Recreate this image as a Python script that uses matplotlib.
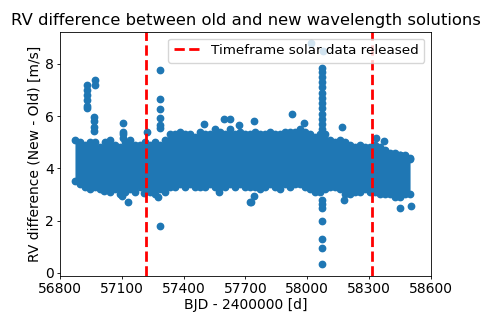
import numpy as np
from matplotlib import pyplot as plt

# dense band of points: upper / lower edge read every ~24 days
band_t = [56873, 56897, 56921, 56946, 56970, 56994, 57018, 57043, 57067, 57091,
          57115, 57140, 57164, 57188, 57213, 57237, 57261, 57285, 57310, 57334,
          57358, 57382, 57407, 57431, 57455, 57479, 57504, 57528, 57552, 57576,
          57601, 57625, 57649, 57673, 57698, 57722, 57746, 57770, 57795, 57819,
          57843, 57867, 57892, 57916, 57940, 57964, 57989, 58013, 58037, 58061,
          58086, 58110, 58134, 58158, 58183, 58207, 58231, 58255, 58280, 58304,
          58328, 58352, 58377, 58401, 58425, 58450, 58474, 58498]
band_hi = [5.1, 5.0, 4.9, 5.0, 5.0, 4.8, 5.0, 5.1, 4.9, 4.8,
           5.0, 5.1, 4.9, 4.9, 5.0, 4.9, 5.0, 4.9, 5.1, 5.3,
           5.3, 5.4, 5.3, 5.3, 5.2, 5.4, 5.3, 5.3, 5.5, 5.4,
           5.3, 5.5, 5.3, 5.4, 5.3, 5.3, 5.4, 5.3, 5.3, 5.4,
           5.3, 5.3, 5.4, 5.4, 5.4, 5.5, 5.4, 5.3, 5.2, 5.3,
           5.3, 5.1, 5.0, 5.1, 5.0, 4.9, 4.8, 4.9, 4.8, 4.8,
           4.9, 4.8, 4.7, 4.6, 4.6, 4.5, 4.5, 4.4]
band_lo = [3.5, 3.4, 3.3, 3.2, 3.3, 3.2, 3.3, 3.1, 3.2, 3.0,
           3.1, 3.2, 3.1, 3.3, 3.3, 3.1, 3.0, 3.2, 3.3, 3.3,
           3.3, 3.4, 3.3, 3.4, 3.3, 3.3, 3.3, 3.4, 3.3, 3.3,
           3.3, 3.4, 3.3, 3.4, 3.3, 3.3, 3.3, 3.2, 3.3, 3.4,
           3.3, 3.2, 3.4, 3.3, 3.4, 3.4, 3.3, 3.2, 3.1, 3.1,
           3.2, 3.3, 3.3, 3.2, 3.0, 3.0, 3.1, 3.1, 3.2, 3.1,
           3.1, 3.0, 3.0, 3.0, 2.9, 2.9, 3.0, 3.0]

# points that stick out of the band
out_t = [56930, 56930, 56930, 56930, 56930, 56930, 56969, 56969,
         56964, 56964, 56964, 56964, 57105, 57105, 57105, 57105, 57221,
         57130, 57100, 57012, 57207,
         57285, 57285, 57285, 57285, 57285, 57285, 57285,
         57596, 57625, 57498, 57669, 57571, 57722, 57275, 57309,
         57741, 57926, 57984, 57727, 57741,
         58073, 58073, 58073, 58073, 58073, 58073, 58073, 58073, 58073, 58073,
         58073, 58073, 58073, 58073, 58073, 58073, 58073, 58073, 58073, 58073,
         58019, 58077,
         58169, 58334, 58373, 58451, 58500, 58451, 58504, 58178]
out_rv = [7.2, 7.0, 6.8, 6.6, 6.4, 6.3, 7.37, 7.2,
          5.96, 5.8, 5.6, 5.45, 5.73, 5.4, 5.3, 5.15, 5.4,
          2.7, 2.93, 3.15, 3.05,
          7.78, 6.65, 6.27, 5.93, 5.66, 5.55, 1.8,
          5.9, 5.9, 5.7, 5.66, 3.08, 2.7, 2.9, 3.1,
          5.8, 6.08, 5.75, 2.7, 2.93,
          7.85, 7.7, 7.5, 7.3, 7.1, 6.9, 6.7, 6.5, 6.3, 6.1,
          5.9, 5.7, 5.5, 2.8, 2.65, 2.5, 2.0, 1.3, 0.97, 0.32,
          8.8, 8.5,
          5.6, 5.17, 5.06, 4.5, 4.37, 2.48, 2.56, 2.78]

release = [57217, 58315]

fig = plt.figure(figsize=(4.91, 3.27), dpi=100)
ax = fig.add_axes([0.122, 0.156, 0.756, 0.746])

c = "#1f77b4"
ax.fill_between(band_t, band_lo, band_hi, color=c, linewidth=0)
ax.scatter(band_t, band_hi, s=21, c=c)
ax.scatter(band_t, band_lo, s=21, c=c)
ax.scatter(out_t, out_rv, s=21, c=c)

ax.axvline(release[0], color="red", ls="--", lw=2, label="Timeframe solar data released")
ax.axvline(release[1], color="red", ls="--", lw=2)

ax.set_xlim(56800, 58600)
ax.set_ylim(-0.12, 9.22)
ax.set_xticks([56800, 57100, 57400, 57700, 58000, 58300, 58600])
ax.set_yticks([0, 2, 4, 6, 8])
ax.tick_params(labelsize=10, length=2.5, width=0.6, pad=2)
for sp in ax.spines.values():
    sp.set_linewidth(0.6)
ax.set_xlabel("BJD - 2400000 [d]", fontsize=10, labelpad=1)
ax.set_ylabel("RV difference (New - Old) [m/s]", fontsize=10, labelpad=2)
ax.set_title("RV difference between old and new wavelength solutions", fontsize=11.8, pad=5)
ax.legend(loc="upper right", fontsize=9.7)

fig.savefig("out.png", dpi=100)
